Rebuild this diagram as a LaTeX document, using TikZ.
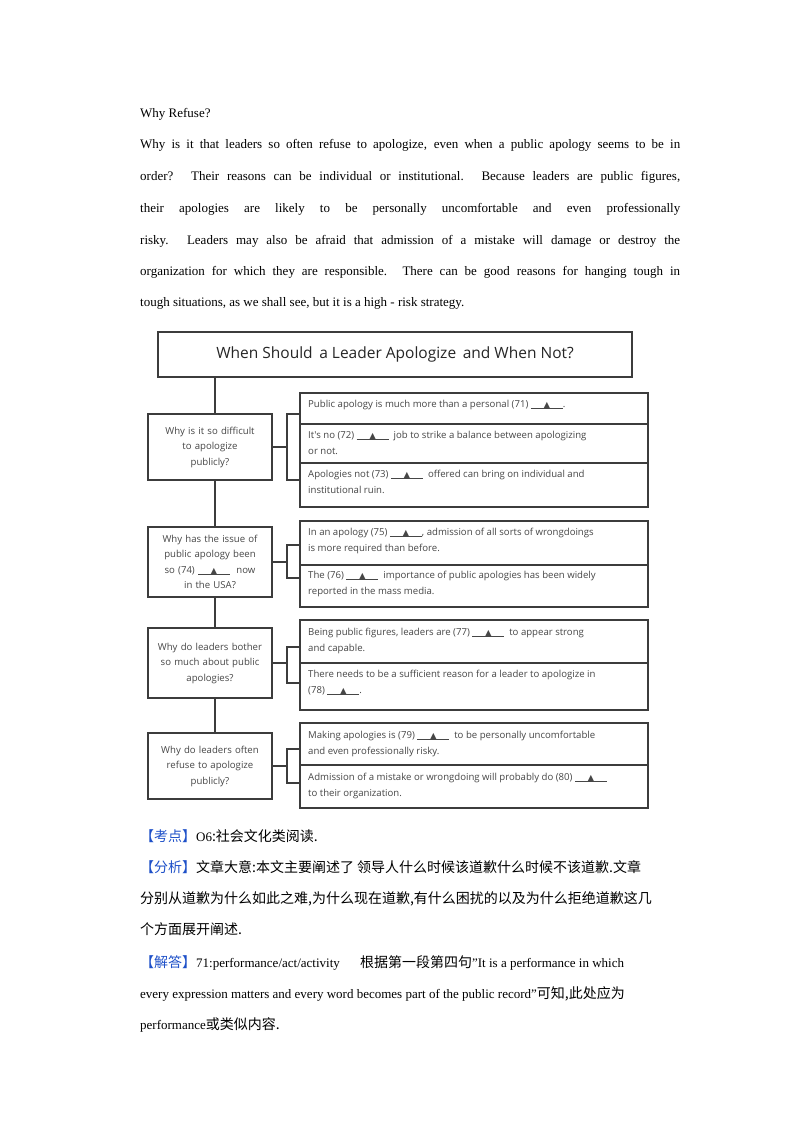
\documentclass[tikz,border=0pt]{standalone}
\usepackage{fontspec}
\setmainfont{Liberation Serif}
\newfontfamily\dsans{Open Sans}
\newfontfamily\dv{DejaVu Sans}
\newfontfamily\cjkf{Noto Sans CJK SC}
\newcommand{\cjk}{\cjkf\fontsize{14}{16}\selectfont}
\definecolor{ln}{RGB}{60,60,60}
\definecolor{tx}{RGB}{70,70,70}
\definecolor{kb}{RGB}{30,80,200}
\newcommand{\blk}{\rlap{\rule[-1.5pt]{32pt}{0.7pt}}\makebox[32pt]{\dv\fontsize{8}{8}\selectfont ▲}}
\begin{document}
\begin{tikzpicture}[x=1pt,y=-1pt,
  box/.style={draw=ln,line width=1.4pt,fill=white},
  qtext/.style={font=\dsans\fontsize{9.6}{15.5}\selectfont,text=tx,align=center,text width=122pt,inner sep=0pt},
  atext/.style={font=\dsans\fontsize{9.6}{16}\selectfont,text=tx,align=left,anchor=north west,inner sep=0pt},
  con/.style={draw=ln,line width=1.4pt},
  body/.style={anchor=base west,inner sep=0pt,font=\fontsize{13}{15}\selectfont}]
\useasboundingbox (0,0) rectangle (800,1132);
% paragraph
\node[body] (p0) at (140,117) {Why Refuse?};
\node[body] (p1) at (140,148) {\makebox[540pt][s]{Why is it that leaders so often refuse to apologize, even when a public apology seems to be in}};
\node[body] (p2) at (140,180) {\makebox[540pt][s]{order? Their reasons can be individual or institutional. Because leaders are public figures,}};
\node[body] (p3) at (140,212) {\makebox[540pt][s]{their apologies are likely to be personally uncomfortable and even professionally}};
\node[body] (p4) at (140,244) {\makebox[540pt][s]{risky. Leaders may also be afraid that admission of a mistake will damage or destroy the}};
\node[body] (p5) at (140,275) {\makebox[540pt][s]{organization for which they are responsible. There can be good reasons for hanging tough in}};
\node[body] (p6) at (140,306) {tough situations, as we shall see, but it is a high - risk strategy.};
% stem
\coordinate (st) at (215,377);
\coordinate (sb) at (215,733);
\draw[con] (st) -- (sb);
% title
\node[box,minimum width=474pt,minimum height=45pt,font=\dsans\fontsize{15.5}{17}\selectfont,text=black!85] (title) at (395,354.5) {When Should\, a Leader Apologize\, and When Not?};
% group 1
\draw[box] (300,393) rectangle (648,507);
\draw[con] (300,424) -- (648,424);
\draw[con] (300,463) -- (648,463);
\node[box,minimum width=124pt,minimum height=66pt,qtext] (q1) at (210,447) {Why is it so difficult\\to apologize\\publicly?};
\draw[con] (q1.east) -- (287,447);
\draw[con] (300,414) -- (287,414) -- (287,480) -- (300,480);
\node[atext] (a71) at (308,400) {Public apology is much more than a personal (71) \blk.};
\node[atext] (a72) at (308,431) {It's no (72) \blk\ \ job to strike a balance between apologizing\\or not.};
\node[atext] (a73) at (308,470) {Apologies not (73) \blk\ \ offered can bring on individual and\\institutional ruin.};
% group 2
\draw[box] (300,521) rectangle (648,607);
\draw[con] (300,565) -- (648,565);
\node[box,minimum width=124pt,minimum height=70pt,qtext] (q2) at (210,562) {Why has the issue of\\public apology been\\so (74) \blk\ \ now\\in the USA?};
\draw[con] (q2.east) -- (287,562);
\draw[con] (300,545) -- (287,545) -- (287,578) -- (300,578);
\node[atext] (a75) at (308,528) {In an apology (75) \blk, admission of all sorts of wrongdoings\\is more required than before.};
\node[atext] (a76) at (308,571) {The (76) \blk\ \ importance of public apologies has been widely\\reported in the mass media.};
% group 3
\draw[box] (300,620) rectangle (648,710);
\draw[con] (300,663) -- (648,663);
\node[box,minimum width=124pt,minimum height=70pt,qtext] (q3) at (210,663) {Why do leaders bother\\so much about public\\apologies?};
\draw[con] (q3.east) -- (287,663);
\draw[con] (300,647) -- (287,647) -- (287,683) -- (300,683);
\node[atext] (a77) at (308,628) {Being public figures, leaders are (77) \blk\ \ to appear strong\\and capable.};
\node[atext] (a78) at (308,670) {There needs to be a sufficient reason for a leader to apologize in\\(78) \blk.};
% group 4
\draw[box] (300,723) rectangle (648,808);
\draw[con] (300,765) -- (648,765);
\node[box,minimum width=124pt,minimum height=66pt,qtext] (q4) at (210,766) {Why do leaders often\\refuse to apologize\\publicly?};
\draw[con] (q4.east) -- (287,766);
\draw[con] (300,749) -- (287,749) -- (287,783) -- (300,783);
\node[atext] (a79) at (308,731) {Making apologies is (79) \blk\ \ to be personally uncomfortable\\and even professionally risky.};
\node[atext] (a80) at (308,773) {Admission of a mistake or wrongdoing will probably do (80) \blk\\to their organization.};
% analysis
\node[body] (k1) at (140,841) {\cjk\textcolor{kb}{【考点】}{\rmfamily\fontsize{13}{15}\selectfont O6}:社会文化类阅读.};
\node[body] (k2) at (140,872) {\cjk\textcolor{kb}{【分析】}文章大意:本文主要阐述了 领导人什么时候该道歉什么时候不该道歉.文章};
\node[body] (k3) at (140,903) {\cjk 分别从道歉为什么如此之难,为什么现在道歉,有什么困扰的以及为什么拒绝道歉这几};
\node[body] (k4) at (140,934) {\cjk 个方面展开阐述.};
\node[body] (k5) at (140,967) {\cjk\textcolor{kb}{【解答】}{\rmfamily\fontsize{13}{15}\selectfont 71:performance/act/activity}\quad\ \ 根据第一段第四句{\rmfamily\fontsize{13}{15}\selectfont"It is a performance in which}};
\node[body] (k6) at (140,998) {every expression matters and every word becomes part of the public record"{\cjk 可知,此处应为}};
\node[body] (k7) at (140,1029) {performance{\cjk 或类似内容.}};
\end{tikzpicture}
\end{document}
